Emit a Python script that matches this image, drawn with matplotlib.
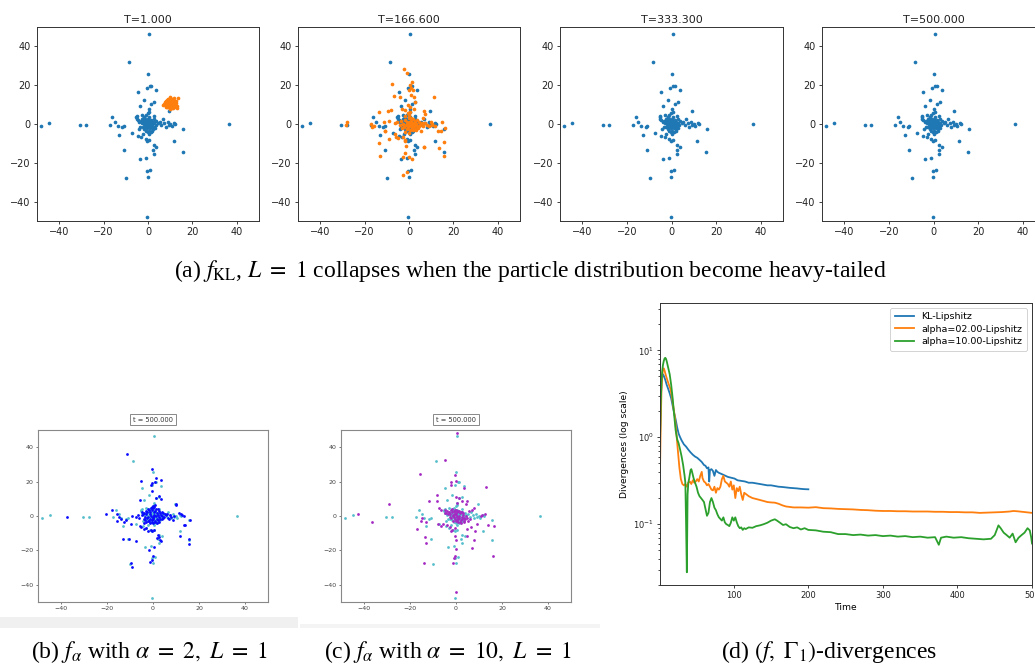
import numpy as np
import matplotlib
matplotlib.use("Agg")
import matplotlib.pyplot as plt
from matplotlib.patches import Rectangle

W, H = 1035, 664

# ---------------- data ----------------
target_x = [0.6, -8.5, 0.2, 0.8, 1.4, -0.5, 3.6, -4.7, -1.6, 2.7, 1.4, -3.8, 9.4, 0.3, 0.6, -0.2,
            -5.0, -5.1, -2.9, -1.7, 2.6, -16.0, -14.8, -17.3, -13.7, -11.6, -10.8, -13.0, -7.2,
            -4.5, -3.1, -2.3, -1.1, -0.3, 0.5, 2.6, 3.8, 2.3, 2.6, -10.9, -3.6, -0.9, -0.3, 0.9,
            -0.2, -9.8, -0.3, -48.3, -44.6, -30.6, -27.9, 36.6, 15.8, 11.6, 15.6,
            5.2, 6.7, 7.4, 8.9, 10.0, 11.9, 12.3, 7.9, 9.3, 6.0, 4.5, 10.6,
            -5.2, -4.6, -4.0, -3.5, -4.2,
            -2.5, -1.8, -1.2, -0.6, 0.1, 0.8, 1.5, 2.2, 2.9, 3.4,
            -2.7, -2.0, -1.3, -0.7, 0.0, 0.6, 1.2, 1.9, 2.5, 3.1,
            -2.4, -1.7, -1.0, -0.4, 0.3, 1.0, 1.6, 2.2, 0.4, -0.9,
            -0.2, 1.3, 2.0, -1.6, 0.5, -0.3, 0.9, -1.5, 1.5, 0.1,
            3.8, -3.2, 2.8, -0.9, 0.4]
target_y = [46.5, 32.1, 25.6, 19.7, 19.8, 18.3, 17.5, 16.4, 12.4, 11.3, 10.4, 9.1, 6.7, 7.6, 6.4, 5.6,
            4.0, 2.8, 4.5, 3.8, 4.3, 3.7, 1.2, -0.3, -1.1, -1.5, -1.0, -5.8, -4.4,
            -6.1, -6.9, -5.3, -7.9, -8.6, -8.0, -11.0, -11.8, -13.5, -15.6, -13.6, -18.1, -17.4, -24.4, -23.9,
            -27.2, -28.0, -47.9, -0.9, 0.3, -0.4, -0.4, 0.0, -2.6, -8.8, -14.2,
            1.2, 2.4, 0.3, 0.9, 0.0, 0.7, 0.1, -1.4, -0.6, -0.5, 0.6, -1.2,
            3.6, 2.0, 0.8, -1.5, -2.8,
            2.5, 1.6, 2.8, 1.9, 2.6, 1.7, 2.2, 1.1, 0.4, -0.7,
            0.6, -0.2, 0.7, -0.3, 0.5, -0.5, 0.3, -0.4, -1.3, -2.2,
            -1.6, -2.4, -1.3, -2.1, -1.5, -2.3, -1.7, -2.8, -3.4, -3.6,
            -4.3, -4.0, -3.6, 3.4, 3.5, 1.0, 1.0, -0.8, -0.9, -0.9,
            1.5, 1.8, 2.6, 4.4, -5.2]

# particles at T=1.000
p1_x = [10.0, 9.2, 10.8, 11.5, 9.5, 10.4, 8.6, 11.9, 10.1, 9.0, 11.2, 12.3, 8.3, 7.8, 11.7, 10.6, 9.2,
        12.4, 8.6, 10.9, 9.8, 12.6, 7.2, 6.6, 13.0, 12.9, 11.4, 9.9, 8.8, 10.2, 9.6, 10.7, 11.1, 8.9,
        12.0, 11.5, 9.3, 10.5, 8.1, 7.6, 13.4, 11.8, 12.8, 9.0, 10.3, 11.0, 8.4, 7.9, 12.2, 10.0]
p1_y = [10.5, 11.3, 11.0, 10.2, 9.6, 9.2, 10.2, 11.6, 12.2, 12.4, 12.5, 10.0, 11.7, 10.4, 8.9, 8.3, 8.6,
        8.6, 9.0, 13.1, 13.2, 12.0, 10.1, 10.0, 9.4, 8.2, 8.0, 7.9, 13.0, 11.7, 10.8, 10.3, 9.4, 10.7,
        11.0, 11.6, 12.0, 12.8, 9.4, 11.1, 13.4, 13.2, 10.8, 9.2, 8.7, 12.0, 12.4, 9.0, 9.3, 14.0]

# particles at T=166.600
p2_x = [-2.4, -0.9, -7.6, 1.3, 0.4, 0.9, -0.1, 1.6, 0.9, 2.1, -6.6, -3.9, 11.4, 2.7, -9.6, -8.2, -3.3,
        -1.8, 0.3, -0.6, 0.6, 2.4, 6.9, 7.0, 6.5, -13.3, -9.1, -17.2, -15.6, -16.5, -28.0, -28.2,
        -10.9, -11.2, -13.3, -9.1, -13.0, -6.3, -4.9, -5.9, -2.9, -1.8, -1.6, -1.3, -1.6, -0.1, 1.2,
        -2.5, 6.9, 6.6, 10.5, 11.8, 14.8, 16.3, 14.4, 13.3, 15.6, 15.6, 4.3, 3.1, 5.4, -2.8, -0.7,
        9.0, 10.0, 10.3, -6.2, -5.2, -10.8, 13.0,
        -3.5, -2.8, -2.0, -1.4, -0.8, -0.2, 0.3, 0.9, 1.5, 2.1, 2.6, 3.2, 3.8, 4.5, 5.1, 5.8, 6.4,
        7.2, 7.9, -3.0, -2.2, -1.0, -0.3, 0.6, 1.2, 1.9, 2.8, -1.7, 0.2, 1.0, -0.5, 0.5, -0.1, 1.4,
        2.3, 3.5, -1.9, 0.0, 4.2, -3.9, -0.6, 1.8, 2.9, 0.8]
p2_y = [28.2, 26.1, 20.6, 21.8, 20.1, 18.7, 17.5, 17.5, 14.9, 13.7, 14.4, 13.9, 14.1, 11.3, 6.9, 7.2, 7.9,
        7.2, 8.9, 9.6, 6.2, 7.6, 6.9, 5.0, 2.9, 6.0, 1.5, 0.0, -1.0, -1.5, 1.0, -0.3,
        -3.4, 1.2, -9.6, -7.9, -16.3, -5.3, -7.0, -6.9, -6.5, -8.8, -8.4, -11.3, -14.8, -16.8, -18.2,
        -17.2, -11.8, -12.0, 0.0, -1.0, 1.0, -2.2, -3.6, -12.5, -9.1, -16.5, -0.9, -2.9, -3.6, -26.1, -24.5,
        -0.9, 1.2, -0.5, 0.3, 1.2, -3.5, -3.4,
        1.5, 0.2, 2.2, -0.6, 1.1, 2.9, -0.2, 1.6, 0.4, -1.1, 1.3, 0.1, -0.8, 0.9, -0.3, 0.6, -1.2,
        0.3, -0.4, -2.1, -1.3, -2.6, -1.8, -3.0, -2.0, -3.2, -2.4, 3.9, 4.5, 3.3, 5.5, 0.8, 0.3, -0.7,
        0.6, 1.9, -3.9, -4.6, -1.9, -0.5, -0.9, 2.4, -0.4, -1.2]

# particles, f_alpha alpha=2 (panel b)
pb_x = [-11.2, -0.4, 1.5, -0.6, 0.9, -1.0, -5.4, 3.5, -0.3, 1.5, 2.5, 3.6, -5.8, 0.9, 0.0, 10.2,
        -20.3, -18.0, -15.7, -14.9, -13.8, -12.8, -11.6, -9.3, -15.7, -9.7, -37.3, -13.2, -10.6, -7.4,
        -9.7, -9.0, -1.7, 0.3, -1.5, -0.6, 0.0, 2.2, 2.6, 1.7, 2.9, 3.5, 11.8, 15.7, 15.7, 13.8, 16.0,
        12.6, 11.3, 9.0, 8.0, 8.7, -5.1, -4.1, -2.9, -2.2, -1.0, -0.4, 0.6, -5.8, -4.1,
        9.9, 12.3, 13.5, 13.6,
        -5.0, -4.3, -3.6, -2.9, -2.2, -1.5, -0.8, -0.1, 0.6, 1.3, 2.0, 2.7, 3.4, 4.1, 4.8, 5.5,
        -4.6, -3.9, -3.2, -2.5, -1.8, -1.1, -0.4, 0.3, 1.0, 1.7, 2.4, 3.1, 3.8, 4.5, 5.2, 5.9,
        -4.0, -3.3, -2.6, -1.9, -1.2, -0.5, 0.2, 0.9, 1.6, 2.3, 3.0, 3.7,
        -3.0, -2.2, -1.4, -0.6, 0.2, 1.0, 1.8, 2.6, -2.1, -1.0, 0.1, 1.2, 2.0, -0.5, 0.6,
        6.5, 7.3, 6.9, -6.5, -7.2, -6.0, 4.4, -0.2, 0.5]
pb_y = [36.3, 27.4, 22.0, 19.1, 19.7, 18.2, 20.3, 21.1, 14.3, 10.4, 11.4, 10.0, 9.1, 6.6, 5.6, 6.4,
        1.2, 3.7, 1.2, -0.6, -1.7, -3.3, -2.5, 0.0, -3.1, -4.4, -0.4, -13.3, -13.3, -14.3,
        -27.6, -29.6, -19.5, -18.2, -27.0, -25.7, -23.4, -10.8, -12.2, -12.8, -13.7, -14.3, -11.4, -13.3, -16.0,
        -5.4, -2.1, 0.8, 1.7, -0.2, -0.6, -2.5, -6.6, -7.7, -7.0, -8.9, -7.9, -8.9, -8.3, -5.6, -4.1,
        6.9, 1.2, -0.2, -5.0,
        0.5, 1.2, -0.3, 0.9, -0.6, 1.4, 0.2, -0.9, 0.7, -0.2, 0.4, -0.7, 0.8, 0.1, -0.4, 0.6,
        2.3, 1.8, 2.9, 2.1, 3.3, 2.6, 3.6, 2.4, 3.1, 1.9, 2.7, 1.6, 2.2, 1.5, 1.0, 0.9,
        -1.9, -2.5, -1.4, -2.8, -1.7, -2.4, -1.5, -2.9, -1.8, -2.2, -1.6, -1.9,
        -3.6, -3.1, -4.0, -3.3, -3.8, -3.4, -4.1, -3.2, 4.3, 4.8, 4.5, 4.1, 3.9, 5.4, 5.0,
        -1.0, 0.3, -1.5, 0.8, -0.5, -1.3, -1.2, -0.3, 0.0]

# particles, f_alpha alpha=10 (panel c)
pc_x = [0.3, -4.9, -15.8, -0.4, -0.1, -2.0, 13.2, -2.3, 3.5, -29.3, -11.8, -8.1, -8.1, 0.0, 1.5,
        0.6, 2.5, 4.9, 4.5, -7.4, -6.4, -4.8, -3.8, -4.9, -42.5, -36.4, -16.8, -15.1, -13.2, -14.7,
        -13.6, -13.2, -14.1, -1.2, -0.4, -0.9, -0.1, 0.0, -0.6, -1.6, -0.3, 0.0, 4.6, 4.9, 7.1, 7.8,
        9.3, 10.7, 11.5, 12.6, 13.9, 16.5, 16.0, 8.3, 6.7, 7.8, 7.1, 5.7, -7.7, -6.7, -5.5, -3.8,
        -2.6, -2.0, 0.6,
        -3.0, -2.4, -1.8, -1.2, -0.6, 0.0, 0.6, 1.2, 1.8, 2.4, 3.0, 3.6, 4.2,
        -2.7, -2.1, -1.5, -0.9, -0.3, 0.3, 0.9, 1.5, 2.1, 2.7, 3.3, 3.9, 4.6,
        -2.2, -1.6, -1.0, -0.4, 0.2, 0.8, 1.4, 2.0, 2.6, 3.2, -1.3, -0.2, 0.9, 1.8,
        5.3, 6.0, -3.5, -4.2, 3.6, 2.2, -0.7, 0.4]
pc_y = [48.1, 32.3, 24.7, 23.6, 20.5, 19.5, 16.8, 18.0, 16.2, 7.1, 8.9, 12.4, 8.9, 11.0, 10.4,
        7.5, 8.9, 8.5, 7.1, 4.6, 3.7, 3.7, 3.1, 1.7, 1.2, -3.7, -7.3, -2.7, -3.5, -1.2,
        -12.2, -15.7, -27.6, -27.6, -23.4, -24.3, -19.1, -44.1, -7.0, -8.3, -11.4, -14.1, -7.5, -11.4, -18.6, -13.7,
        -4.6, -0.2, 0.8, 1.4, -5.0, -5.6, -23.4, -8.9, -6.4, 4.6, 3.7, 3.1, -4.6, -5.6, -4.4, -5.2,
        -6.6, -8.5, -2.2,
        2.1, 1.2, 2.6, 0.4, 1.8, 0.9, 2.3, 0.1, 1.5, -0.3, 0.8, -0.9, 0.2,
        -0.5, -1.2, 0.2, -0.8, -1.6, -0.4, -1.9, -1.1, -2.4, -1.6, -2.9, -2.0, -1.3,
        3.2, 3.9, 2.9, 3.6, 3.3, 2.8, 3.0, 2.5, 2.2, 1.7, -3.1, -2.7, -3.5, -3.2,
        -2.8, -1.6, 0.9, 2.0, -3.7, -4.1, 0.5, -0.1]

# divergence curves
kl_t = [1, 2, 3, 4, 5, 6, 8, 10, 12, 14, 16, 18, 20, 22, 24, 26, 28, 30, 33, 36, 39, 42, 45, 48,
        51, 54, 57, 60, 62, 64, 66, 67, 68, 70, 72, 74, 76, 78, 80, 83, 86, 89, 92, 95, 98, 101, 105,
        110, 115, 120, 125, 130, 135, 140, 145, 150, 155, 160, 165, 170, 175, 180, 185, 190, 195, 200]
kl_v = [1.0, 2.6, 4.2, 5.0, 5.3, 5.1, 4.6, 4.0, 3.6, 3.2, 2.8, 2.3, 1.9, 1.6, 1.3, 1.1, 1.0, 0.92,
        0.83, 0.78, 0.72, 0.67, 0.63, 0.60, 0.58, 0.55, 0.52, 0.48, 0.47, 0.44, 0.45, 0.31, 0.42,
        0.43, 0.41, 0.36, 0.42, 0.40, 0.39, 0.38, 0.37, 0.36, 0.35, 0.345, 0.34, 0.335, 0.32, 0.315,
        0.31, 0.30, 0.30, 0.295, 0.29, 0.285, 0.28, 0.28, 0.275, 0.27, 0.268, 0.265, 0.262, 0.26,
        0.258, 0.255, 0.253, 0.252]

a2_t = [1, 2, 3, 4, 5, 6, 7, 9, 11, 13, 15, 17, 19, 21, 23, 25, 27, 29, 31, 33, 35, 37, 39, 41,
        43, 45, 47, 49, 51, 53, 55, 57, 58, 60, 62, 64, 66, 68, 70, 72, 74, 76, 78, 80, 82, 84, 86,
        88, 90, 92, 94, 96, 98, 100, 102, 104, 106, 108, 110, 112, 114, 117, 120, 125, 130, 135,
        140, 145, 150, 155, 160, 165, 170, 175, 180, 190, 200, 210, 220, 230, 240, 250, 260, 270,
        280, 290, 300, 310, 320, 330, 340, 350, 360, 370, 380, 390, 400, 410, 420, 430, 440, 450,
        460, 470, 475, 480, 490, 500]
a2_v = [0.4, 1.5, 3.5, 5.2, 6.0, 6.2, 5.9, 5.1, 4.5, 4.0, 3.6, 2.9, 2.2, 1.7, 1.1, 0.7, 0.45, 0.33,
        0.29, 0.28, 0.29, 0.27, 0.30, 0.31, 0.29, 0.32, 0.30, 0.31, 0.33, 0.31, 0.36, 0.40, 0.34,
        0.31, 0.30, 0.28, 0.29, 0.27, 0.25, 0.245, 0.27, 0.23, 0.26, 0.25, 0.27, 0.33, 0.36, 0.31,
        0.30, 0.29, 0.27, 0.31, 0.25, 0.28, 0.20, 0.26, 0.24, 0.27, 0.22, 0.19, 0.23, 0.22, 0.21,
        0.20, 0.195, 0.19, 0.185, 0.18, 0.178, 0.177, 0.172, 0.165, 0.16, 0.158, 0.156, 0.156,
        0.155, 0.157, 0.153, 0.152, 0.150, 0.149, 0.148, 0.146, 0.145, 0.143, 0.142, 0.142, 0.141,
        0.141, 0.140, 0.140, 0.140, 0.139, 0.139, 0.138, 0.138, 0.137, 0.137, 0.135, 0.136, 0.137,
        0.138, 0.140, 0.142, 0.141, 0.138, 0.135]

a10_t = [1, 2, 3, 4, 5, 6, 7, 8, 9, 10, 12, 14, 16, 18, 20, 22, 24, 26, 28, 30, 32, 34, 35, 36,
         37, 38, 39, 40, 42, 43, 44, 46, 48, 50, 52, 54, 56, 58, 60, 62, 64, 66, 68, 70, 72, 74, 76,
         78, 80, 82, 84, 86, 88, 90, 92, 94, 96, 98, 100, 102, 104, 106, 108, 110, 112, 114, 116,
         120, 125, 130, 135, 140, 145, 150, 155, 158, 162, 166, 170, 175, 180, 185, 190, 195, 200,
         210, 220, 230, 240, 250, 260, 270, 280, 290, 300, 310, 320, 330, 340, 350, 360, 370, 375,
         378, 385, 395, 405, 415, 425, 435, 445, 450, 455, 458, 462, 466, 470, 474, 478, 482, 486,
         490, 494, 497, 499, 500]
a10_v = [0.9, 2.5, 4.5, 5.8, 6.8, 7.5, 8.0, 8.2, 8.0, 7.5, 6.3, 5.3, 4.0, 2.8, 1.8, 1.2, 0.95,
         0.85, 0.72, 0.60, 0.48, 0.36, 0.30, 0.10, 0.028, 0.22, 0.30, 0.33, 0.42, 0.43, 0.40, 0.34,
         0.30, 0.27, 0.23, 0.21, 0.20, 0.19, 0.18, 0.15, 0.125, 0.135, 0.18, 0.20, 0.18, 0.155,
         0.145, 0.13, 0.12, 0.115, 0.11, 0.12, 0.105, 0.10, 0.098, 0.095, 0.104, 0.12, 0.11, 0.12,
         0.105, 0.095, 0.09, 0.092, 0.086, 0.09, 0.088, 0.092, 0.091, 0.095, 0.097, 0.10, 0.104,
         0.11, 0.114, 0.11, 0.104, 0.098, 0.10, 0.093, 0.09, 0.092, 0.087, 0.09, 0.086, 0.085,
         0.082, 0.081, 0.077, 0.077, 0.075, 0.076, 0.074, 0.075, 0.073, 0.074, 0.072, 0.073, 0.071,
         0.072, 0.070, 0.071, 0.058, 0.070, 0.072, 0.070, 0.071, 0.069, 0.068, 0.067, 0.068, 0.075,
         0.097, 0.090, 0.080, 0.075, 0.070, 0.078, 0.062, 0.070, 0.075, 0.080, 0.090, 0.085, 0.070,
         0.060]

top_titles = ["T=1.000", "T=166.600", "T=333.300", "T=500.000"]
ticks = [-40, -20, 0, 20, 40]

C_BLUE = "#1f77b4"
C_ORANGE = "#ff7f0e"
C_GREEN = "#2ca02c"
C_CYAN = "#56bfcc"
C_PBLUE = "#0a0aff"
C_PURPLE = "#a52ac4"

fig = plt.figure(figsize=(W / 100, H / 100), dpi=100)
fig.patch.set_facecolor("white")
plt.rcParams["mathtext.fontset"] = "stix"


def px_axes(left, top, right, bottom):
    return fig.add_axes([left / W, 1 - bottom / H, (right - left) / W, (bottom - top) / H])


# ---------------- top row ----------------
top_boxes = [(37, 27, 259, 221), (298, 27, 520, 221), (560, 27, 783, 221), (822, 27, 1045, 221)]
for i, (l, t, r, b) in enumerate(top_boxes):
    ax = px_axes(l, t, r, b)
    ax.scatter(target_x, target_y, s=7, c=C_BLUE, linewidths=0, zorder=2)
    if i == 0:
        ax.scatter(p1_x, p1_y, s=7, c=C_ORANGE, linewidths=0, zorder=3)
    elif i == 1:
        ax.scatter(p2_x, p2_y, s=7, c=C_ORANGE, linewidths=0, zorder=3)
    ax.set_xlim(-50, 50)
    ax.set_ylim(-50, 50)
    ax.set_xticks(ticks)
    ax.set_yticks(ticks)
    ax.tick_params(labelsize=7, length=2.5, width=0.6, pad=2, colors="#222222")
    for sp in ax.spines.values():
        sp.set_linewidth(0.7)
        sp.set_color("#333333")
    ax.set_title(top_titles[i], fontsize=8, pad=3, color="#222222")

serif = ["Liberation Serif", "DejaVu Serif"]
fig.text(530 / W, 1 - 271 / H,
         r"(a) $f_{\mathrm{KL}}$, $L\ =\ 1$ collapses when the particle distribution become heavy-tailed",
         ha="center", va="center", fontsize=17, family=serif)

# ---------------- bottom (b), (c) ----------------
fig.patches.append(Rectangle((0, 1 - 628 / H), 298 / W, 11 / H, transform=fig.transFigure,
                             facecolor="#f0f0f0", edgecolor="none", zorder=0))
fig.patches.append(Rectangle((300 / W, 1 - 628 / H), 300 / W, 4 / H, transform=fig.transFigure,
                             facecolor="#f4f4f4", edgecolor="none", zorder=0))

bottom_boxes = [(38, 430, 268, 602, pb_x, pb_y, C_PBLUE), (341, 430, 571, 602, pc_x, pc_y, C_PURPLE)]
for (l, t, r, b, xs, ys, col) in bottom_boxes:
    ax = px_axes(l, t, r, b)
    ax.scatter(target_x, target_y, s=4, c=C_CYAN, linewidths=0, zorder=2)
    ax.scatter(xs, ys, s=4, c=col, linewidths=0, zorder=3)
    ax.set_xlim(-50, 50)
    ax.set_ylim(-50, 50)
    ax.set_xticks(ticks)
    ax.set_yticks(ticks)
    ax.tick_params(labelsize=4.5, length=1.5, width=0.5, pad=1.5, colors="#444444")
    for sp in ax.spines.values():
        sp.set_linewidth(0.8)
        sp.set_color("#888888")
    ax.text(0.5, 1.06, "t = 500.000", transform=ax.transAxes, ha="center", va="center",
            fontsize=4.8, color="#333333",
            bbox=dict(boxstyle="square,pad=0.4", facecolor="white", edgecolor="#888888", linewidth=0.7))

# ---------------- (d) divergences ----------------
axd = px_axes(660, 303, 1032, 585)
axd.plot(kl_t, kl_v, color=C_BLUE, lw=1.3, label="KL-Lipshitz")
axd.plot(a2_t, a2_v, color=C_ORANGE, lw=1.3, label="alpha=02.00-Lipshitz")
axd.plot(a10_t, a10_v, color=C_GREEN, lw=1.3, label="alpha=10.00-Lipshitz")
axd.set_yscale("log")
axd.set_xlim(1, 500)
axd.set_ylim(0.02, 35)
axd.set_xticks([100, 200, 300, 400, 500])
axd.tick_params(labelsize=6, length=2.5, width=0.6, pad=2, colors="#222222")
axd.tick_params(which="minor", length=1.5, width=0.5)
for sp in axd.spines.values():
    sp.set_linewidth(0.7)
    sp.set_color("#333333")
axd.set_xlabel("Time", fontsize=6.6, labelpad=2)
axd.set_ylabel("Divergences (log scale)", fontsize=6.6, labelpad=3)
leg = axd.legend(loc="upper right", fontsize=6.8, handlelength=2.0, borderpad=0.5,
                 labelspacing=0.35, framealpha=1, edgecolor="#cccccc")
leg.get_frame().set_linewidth(0.6)

# ---------------- captions ----------------
fig.text(150 / W, 1 - 652 / H, r"(b) $f_{\alpha}$ with $\alpha\ =\ 2,\ L\ =\ 1$",
         ha="center", va="center", fontsize=17, family=serif)
fig.text(448 / W, 1 - 652 / H, r"(c) $f_{\alpha}$ with $\alpha\ =\ 10,\ L\ =\ 1$",
         ha="center", va="center", fontsize=17, family=serif)
fig.text(829 / W, 1 - 652 / H, r"(d) $(f,\ \Gamma_1)$-divergences",
         ha="center", va="center", fontsize=17, family=serif)

fig.savefig("out.png", dpi=100, facecolor="white")
